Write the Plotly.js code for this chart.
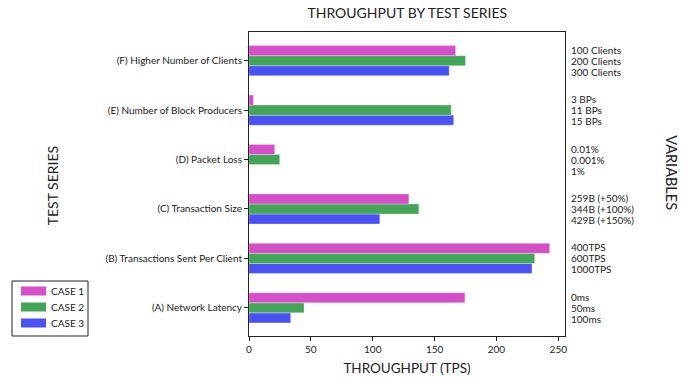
<!DOCTYPE html>
<html>
<head>
<meta charset="utf-8">
<script src="https://cdn.plot.ly/plotly-3.0.1.min.js"></script>
<style>html,body{margin:0;padding:0;background:#fff;}#chart{width:697px;height:383px;}</style>
</head>
<body>
<div id="chart"></div>
<script>
const categories = ["(A) Network Latency", "(B) Transactions Sent Per Client", "(C) Transaction Size", "(D) Packet Loss", "(E) Number of Block Producers", "(F) Higher Number of Clients"];
const case1 = [174.5, 243, 129.2, 20.8, 3.6, 167];
const case2 = [44.5, 230.9, 137.3, 24.8, 163.4, 175];
const case3 = [33.7, 228.7, 105.7, 0, 165.4, 161.8];
const variables = [
  ["0ms", "50ms", "100ms"],
  ["400TPS", "600TPS", "1000TPS"],
  ["259B (+50%)", "344B (+100%)", "429B (+150%)"],
  ["0.01%", "0.001%", "1%"],
  ["3 BPs", "11 BPs", "15 BPs"],
  ["100 Clients", "200 Clients", "300 Clients"]
];
const seriesNames = ["CASE 1", "CASE 2", "CASE 3"];
const colors = ["#d44fc8", "#43a557", "#4b52f5"];
const FONT = "Lato, 'Open Sans', sans-serif";
const INK = "#222";

const values = [case1, case2, case3];
const traces = [];
// bars drawn in reverse so case 1 sits on top within each group
for (let i = 2; i >= 0; i--) {
  traces.push({
    type: "bar", orientation: "h", y: categories, x: values[i], name: seriesNames[i],
    marker: {color: colors[i], line: {width: 0.6, color: "rgba(255,255,255,0.5)"}},
    showlegend: false, hoverinfo: "x+name"
  });
}

const annotations = [];
const shapes = [];
variables.forEach((v, k) => {
  v.forEach((label, j) => {
    annotations.push({
      xref: "paper", yref: "y", x: 1, y: categories[k], xanchor: "left", yanchor: "middle",
      xshift: 4, yshift: (1 - j) * 11, text: label, showarrow: false, align: "left",
      font: {family: FONT, size: 10, color: INK}
    });
  });
});
annotations.push({
  xref: "paper", yref: "paper", x: 1, y: 0.539, xshift: 107, xanchor: "center", yanchor: "middle",
  text: "VARIABLES", showarrow: false, textangle: 90,
  font: {family: FONT, size: 14.5, color: INK}
});
annotations.push({
  xref: "paper", yref: "paper", x: -0.623, y: 0.493, xanchor: "center", yanchor: "middle",
  text: "TEST SERIES", showarrow: false, textangle: -90,
  font: {family: FONT, size: 14, color: INK}
});

// custom legend (box, swatches, labels) in paper coordinates
const W = 316, H = 304, L = 249, B = 336;
const px = x => (x - L) / W;
const py = y => (B - y) / H;
shapes.push({type: "rect", xref: "paper", yref: "paper", x0: px(12), x1: px(88), y0: py(336), y1: py(281),
             line: {color: INK, width: 1}, fillcolor: "#fff", layer: "above"});
seriesNames.forEach((name, i) => {
  const cy = 291 + i * 16;
  shapes.push({type: "rect", xref: "paper", yref: "paper", x0: px(21), x1: px(46), y0: py(cy + 4.5), y1: py(cy - 4.5),
               line: {width: 0}, fillcolor: colors[i], layer: "above"});
  annotations.push({xref: "paper", yref: "paper", x: px(49), y: py(cy), xanchor: "left", yanchor: "middle",
                    text: name, showarrow: false, font: {family: FONT, size: 10, color: INK}});
});

const layout = {
  width: 697, height: 383,
  margin: {l: 249, r: 132, t: 32, b: 47},
  paper_bgcolor: "#fff", plot_bgcolor: "#fff",
  title: {text: "THROUGHPUT BY TEST SERIES", x: 0.5844, xanchor: "center", y: 0.965, yanchor: "middle",
          font: {family: FONT, size: 14, color: INK}},
  barmode: "group", bargap: 0.39, bargroupgap: 0,
  font: {family: FONT, size: 10, color: INK},
  xaxis: {range: [0, 255.4], showgrid: false, zeroline: false, showline: true, mirror: true,
          linecolor: INK, linewidth: 1, ticks: "outside", ticklen: 4, tickcolor: INK,
          tickvals: [0, 50, 100, 150, 200, 250], tickfont: {family: FONT, size: 10, color: INK},
          title: {text: "THROUGHPUT (TPS)", standoff: 9, font: {family: FONT, size: 13.5, color: INK}}},
  yaxis: {range: [-0.57, 5.58], showgrid: false, zeroline: false, showline: true, mirror: true,
          linecolor: INK, linewidth: 1, ticks: "outside", ticklen: 4, tickcolor: INK,
          tickfont: {family: FONT, size: 10, color: INK}, automargin: false},
  annotations: annotations,
  shapes: shapes,
  showlegend: false
};

Plotly.newPlot("chart", traces, layout, {displayModeBar: false, staticPlot: true});
</script>
</body>
</html>
